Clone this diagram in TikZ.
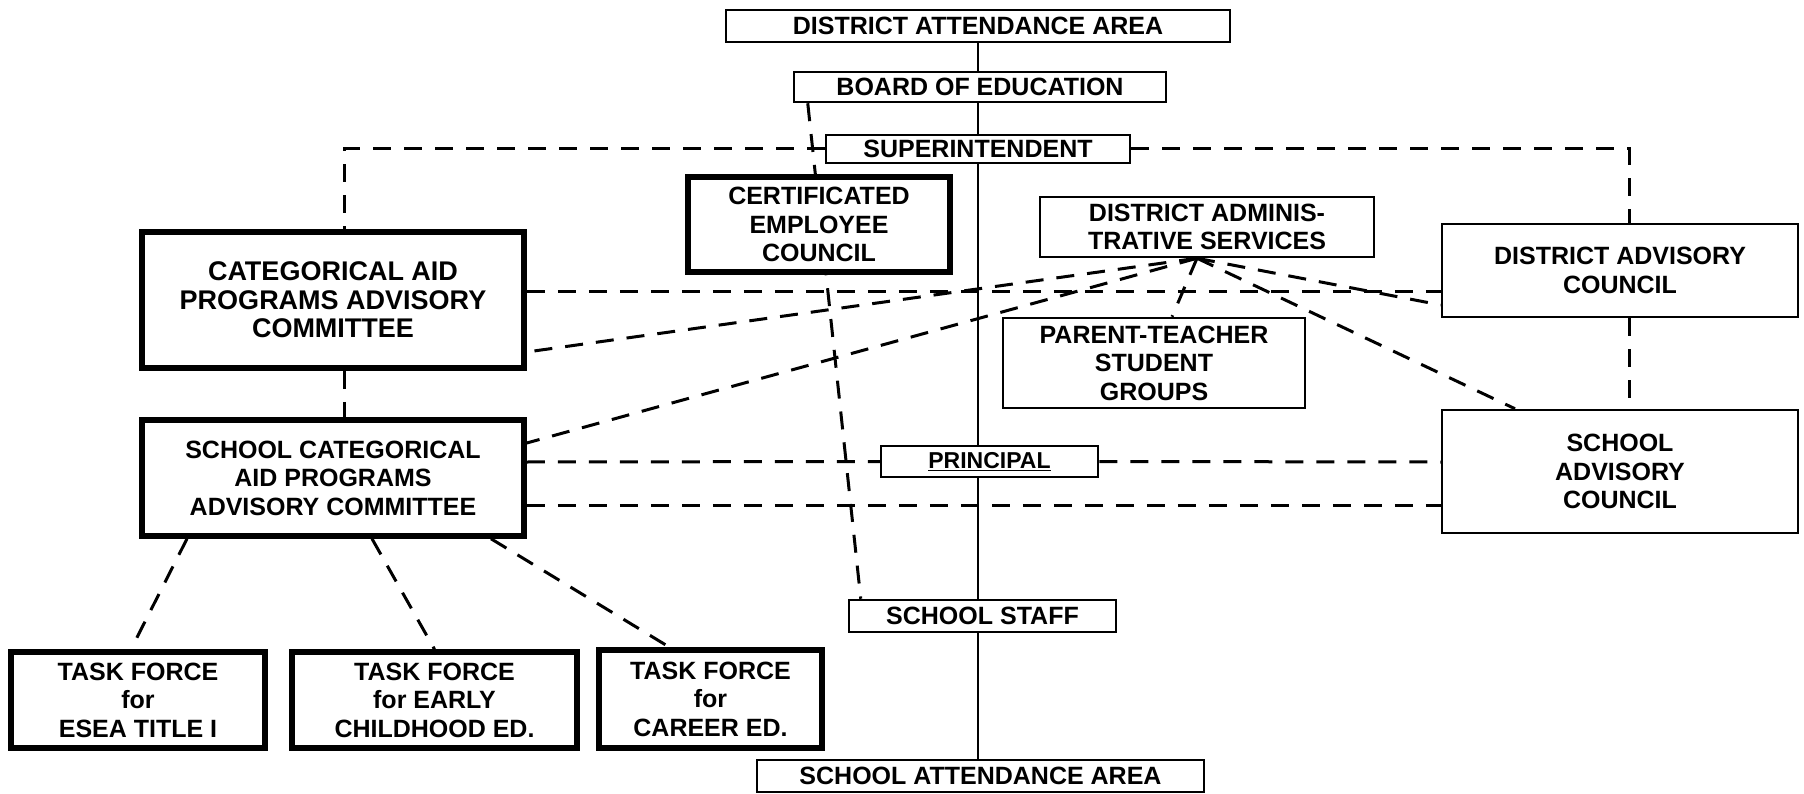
\documentclass[tikz,border=0pt]{standalone}
\usepackage{fontspec}
\setmainfont{Liberation Sans}
\usetikzlibrary{backgrounds}
\tikzset{
  box/.style={draw, line width=2.5pt, fill=white, inner sep=0pt, align=center,
              font=\fontsize{25}{28.5}\selectfont\bfseries},
  thickbox/.style={box, line width=5.5pt},
  link/.style={line width=3pt, dash pattern=on 18pt off 13pt},
  spine/.style={line width=2.5pt},
}
\begin{document}
\begin{tikzpicture}[x=1pt,y=-1pt]
\useasboundingbox (0,0) rectangle (1804,794);
% boxes
\node[box, minimum width=504pt, minimum height=32pt] (DAA) at (978,26) {DISTRICT ATTENDANCE AREA};
\node[box, minimum width=372pt, minimum height=30pt] (BOE) at (980,87) {BOARD OF EDUCATION};
\node[box, minimum width=304pt, minimum height=28pt] (SUP) at (978,149) {SUPERINTENDENT};
\node[thickbox, minimum width=262pt, minimum height=95pt] (CEC) at (819,224.5) {CERTIFICATED\\EMPLOYEE\\COUNCIL};
\node[box, minimum width=334pt, minimum height=60pt] (DAS) at (1207,227) {DISTRICT ADMINIS-\\TRATIVE SERVICES};
\node[thickbox, minimum width=382pt, minimum height=136pt, font=\fontsize{27}{28.5}\selectfont\bfseries] (CAT) at (333,300) {CATEGORICAL AID\\PROGRAMS ADVISORY\\COMMITTEE};
\node[box, minimum width=356pt, minimum height=93pt] (DAC) at (1620,270.5) {DISTRICT ADVISORY\\COUNCIL};
\node[box, minimum width=302pt, minimum height=90pt] (PTS) at (1154,363) {PARENT-TEACHER\\STUDENT\\GROUPS};
\node[thickbox, minimum width=382pt, minimum height=116pt] (SCH) at (333,478) {SCHOOL CATEGORICAL\\AID PROGRAMS\\ADVISORY COMMITTEE};
\node[box, minimum width=217pt, minimum height=31pt, font=\fontsize{23}{28}\selectfont\bfseries] (PRI) at (989.5,461.5) {\underline{PRINCIPAL}};
\node[box, minimum width=356pt, minimum height=123pt] (SAC) at (1620,471.5) {SCHOOL\\ADVISORY\\COUNCIL};
\node[box, minimum width=267pt, minimum height=32pt] (STF) at (982.5,616) {SCHOOL STAFF};
\node[thickbox, minimum width=254pt, minimum height=96pt] (ESEA) at (138,700) {TASK FORCE\\for\\ESEA TITLE I};
\node[thickbox, minimum width=285pt, minimum height=96pt] (EAR) at (434.5,700) {TASK FORCE\\for EARLY\\CHILDHOOD ED.};
\node[thickbox, minimum width=223pt, minimum height=98pt] (CAR) at (710.5,699) {TASK FORCE\\for\\CAREER ED.};
\node[box, minimum width=447pt, minimum height=32pt] (SAA) at (980.5,776) {SCHOOL ATTENDANCE AREA};
% level coordinates
\coordinate (y292) at (0,292);
\coordinate (y305) at (0,305);
\coordinate (y352) at (0,352);
\coordinate (y443) at (0,443);
\coordinate (y462) at (0,462);
\coordinate (y505) at (0,505);
\coordinate (hub) at ([xshift=-10pt]DAS.south);
\begin{scope}[on background layer]
\fill[white] (0,0) rectangle (1804,794);
\draw[spine] (DAA.south) -- (DAA.south |- SAA.north);
\draw[link] ([xshift=15pt]BOE.south west) -- ([xshift=13pt]STF.north west);
\draw[link] (SUP.west) -| ([xshift=11pt]CAT.north);
\draw[link] ([xshift=11pt]CAT.south) -- ([xshift=11pt]SCH.north);
\draw[link] (SUP.east) -| ([xshift=9pt]DAC.north);
\draw[link] ([xshift=9pt]DAC.south) -- ([xshift=9pt]SAC.north);
\draw[link] (CAT.east |- y292) -- (DAC.west |- y292);
\draw[link] (hub) -- (CAT.east |- y352);
\draw[link] (hub) -- (SCH.east |- y443);
\draw[link] (hub) -- ([xshift=18pt]PTS.north);
\draw[link] (hub) -- (DAC.west |- y305);
\draw[link] (hub) -- ([xshift=-105pt]SAC.north);
\draw[link] (SCH.east |- y462) -- (PRI.west);
\draw[link] (PRI.east) -- (SAC.west |- y462);
\draw[link] (SCH.east |- y505) -- (SAC.west |- y505);
\draw[link] ([xshift=-146pt]SCH.south) -- ([xshift=-7pt]ESEA.north);
\draw[link] ([xshift=39pt]SCH.south) -- (EAR.north);
\draw[link] ([xshift=158pt]SCH.south) -- ([xshift=-41pt]CAR.north);
\end{scope}
\end{tikzpicture}
\end{document}
